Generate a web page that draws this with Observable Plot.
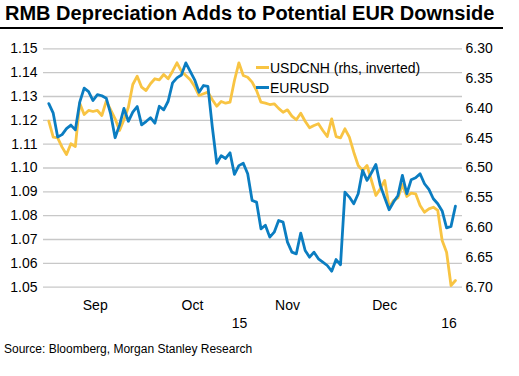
<!DOCTYPE html>
<html>
<head>
<meta charset="utf-8">
<script src="https://cdn.jsdelivr.net/npm/d3@7"></script>
<script src="https://cdn.jsdelivr.net/npm/@observablehq/plot@0.6"></script>
<style>
  html, body { margin: 0; padding: 0; background: #fff; }
  body { width: 519px; height: 376px; position: relative; overflow: hidden;
         font-family: "Liberation Sans", Arial, sans-serif; color: #000; }
  #title { position: absolute; left: 5px; top: 1px; font-size: 20px; font-weight: bold;
           line-height: 24px; white-space: nowrap; }
  #rule { position: absolute; left: 0; top: 27px; width: 503px; height: 1.5px; background: #000; }
  #chart { position: absolute; left: 0; top: 30px; }
  #caption { position: absolute; left: 4px; top: 341.5px; font-size: 12px; line-height: 14px; white-space: nowrap; }
  .leg { position: absolute; font-size: 14px; line-height: 16px; white-space: nowrap; }
  .sw { position: absolute; width: 13px; height: 3px; }
</style>
</head>
<body>
<div id="title">RMB Depreciation Adds to Potential EUR Downside</div>
<div id="rule"></div>
<div id="chart"></div>
<div id="caption">Source: Bloomberg, Morgan Stanley Research</div>
<script>
// ---- data (business days, Sep 2015 – early Jan 2016) ----
const eurusd = [
  1.127, 1.123, 1.113, 1.114, 1.1165, 1.118, 1.116, 1.1276, 1.1335, 1.132,
  1.1283, 1.1308, 1.1303, 1.1293, 1.1227, 1.1127, 1.118, 1.125, 1.1196, 1.1234,
  1.1258, 1.1181, 1.1195, 1.1211, 1.1188, 1.1259, 1.1244, 1.128, 1.1357, 1.1378,
  1.139, 1.1441, 1.1405, 1.137, 1.1318, 1.1346, 1.1342, 1.1171, 1.102, 1.1052,
  1.104, 1.1064, 1.0973, 1.101, 1.102, 1.0976, 1.0864, 1.0857, 1.0745, 1.076,
  1.071, 1.0731, 1.078, 1.0773, 1.0689, 1.0647, 1.064, 1.0727, 1.0654, 1.0626,
  1.0647, 1.0619, 1.0605, 1.0591, 1.0567, 1.0616, 1.0594, 1.0899, 1.0878, 1.085,
  1.0892, 1.099, 1.0948, 1.098, 1.1015, 1.0927, 1.0875, 1.0825, 1.0857, 1.0885,
  1.0969, 1.0892, 1.0951, 1.0959, 1.0976, 1.0934, 1.091, 1.0871, 1.085, 1.082,
  1.0749, 1.0755, 1.084
];
const usdcnh = [
  6.4215, 6.4483, 6.4493, 6.465, 6.4774, 6.4594, 6.4639, 6.3913, 6.4102, 6.4035,
  6.4052, 6.4035, 6.4119, 6.3879, 6.4024, 6.4175, 6.4371, 6.4191, 6.398, 6.3599,
  6.346, 6.3644, 6.37, 6.3587, 6.3503, 6.352, 6.3431, 6.3503, 6.3376, 6.3235,
  6.3376, 6.3448, 6.352, 6.3633, 6.3784, 6.3755, 6.3728, 6.3856, 6.3963, 6.3884,
  6.3913, 6.3896, 6.3532, 6.3235, 6.3448, 6.3477, 6.356, 6.37, 6.3896, 6.3913,
  6.3935, 6.3923, 6.40, 6.4064, 6.4024, 6.413, 6.4191, 6.4081, 6.4215, 6.4326,
  6.4287, 6.4258, 6.4371, 6.4472, 6.4175, 6.4472, 6.4493, 6.4342, 6.4483, 6.4735,
  6.4958, 6.5042, 6.4958, 6.521, 6.5461, 6.5349, 6.521, 6.5658, 6.5545, 6.55,
  6.5277, 6.5478, 6.5423, 6.5433, 6.5629, 6.5742, 6.5685, 6.5658, 6.5713, 6.6217,
  6.6413, 6.6972, 6.6888
];
const months = ["Sep", "Oct", "Nov", "Dec", "Jan"];
const monthDays = [22, 22, 21, 23, 5];   // trading days in each month of the series
const monthLabels = ["Sep", "Oct", "Nov", "Dec"];
const years = ["15", "16"];
const leftTicks = [1.05, 1.06, 1.07, 1.08, 1.09, 1.10, 1.11, 1.12, 1.13, 1.14, 1.15];
const rightTicks = [6.30, 6.35, 6.40, 6.45, 6.50, 6.55, 6.60, 6.65, 6.70];
const seriesNames = ["USDCNH (rhs, inverted)", "EURUSD"];
const colors = {usdcnh: "#F8C443", eurusd: "#0B7DC1"};

// ---- scales ----
const L0 = 1.05, L1 = 1.15, R0 = 6.30, R1 = 6.70;
const toLeft = v => L1 - (v - R0) / (R1 - R0) * (L1 - L0);      // inverted rhs
const fromLeft = y => R0 + (L1 - y) / (L1 - L0) * (R1 - R0);

const blue = eurusd.map((v, i) => ({i, v}));
const gold = usdcnh.map((v, i) => ({i, v: toLeft(v)}));

// month & year label positions (centres of each segment in index units)
let start = 0;
const monthSeg = monthDays.map((n, k) => { const s = start; start += n; return {name: months[k], s, e: s + n - 1}; });
const xDomain = [-1.2, eurusd.length - 1 + 1.6];
const monthTicks = monthSeg.filter(m => monthLabels.includes(m.name)).map(m => ({c: (m.s + m.e) / 2, name: m.name}));
const janStart = monthSeg[4].s - 0.5;
const yearTicks = [
  {c: (xDomain[0] + janStart) / 2, name: years[0]},
  {c: (janStart + xDomain[1]) / 2, name: years[1]}
];

const font = "Liberation Sans, Arial, sans-serif";
const chart = Plot.plot({
  width: 519,
  height: 305,
  marginTop: 18.3,
  marginBottom: 48.3,
  marginLeft: 43,
  marginRight: 57,
  style: {fontFamily: font, fontSize: "14px", color: "#000", background: "transparent"},
  x: {domain: xDomain, axis: null},
  y: {domain: [L0, L1], axis: null},
  marks: [
    Plot.gridY(leftTicks, {stroke: "#c8c8c8", strokeOpacity: 1, strokeWidth: 1.3}),
    Plot.axisY(leftTicks, {anchor: "left", tickSize: 0, tickPadding: 6, fontSize: 14, label: null,
                           tickFormat: d => d.toFixed(2)}),
    Plot.axisY(rightTicks.map(toLeft), {anchor: "right", tickSize: 0, tickPadding: 3, fontSize: 14, label: null,
                           tickFormat: d => fromLeft(d).toFixed(2)}),
    Plot.axisX(monthTicks.map(d => d.c), {anchor: "bottom", tickSize: 0, tickPadding: 13, fontSize: 14, label: null,
                           tickFormat: (d, k) => monthTicks[k].name}),
    Plot.axisX(yearTicks.map(d => d.c), {anchor: "bottom", tickSize: 0, tickPadding: 31, fontSize: 14, label: null,
                           tickFormat: (d, k) => yearTicks[k].name}),
    Plot.line(gold, {x: "i", y: "v", stroke: colors.usdcnh, strokeWidth: 2.8}),
    Plot.line(blue, {x: "i", y: "v", stroke: colors.eurusd, strokeWidth: 2.8})
  ]
});
document.getElementById("chart").appendChild(chart);

// legend (HTML overlay)
[[seriesNames[0], colors.usdcnh, 59.9, 66.2], [seriesNames[1], colors.eurusd, 79.5, 85.8]].forEach(([t, c, ty, sy]) => {
  const sw = document.createElement("div");
  sw.className = "sw"; sw.style.left = "256px"; sw.style.top = sy + "px"; sw.style.background = c;
  document.body.appendChild(sw);
  const lab = document.createElement("div");
  lab.className = "leg"; lab.style.left = "270px"; lab.style.top = ty + "px"; lab.textContent = t;
  document.body.appendChild(lab);
});
</script>
</body>
</html>
